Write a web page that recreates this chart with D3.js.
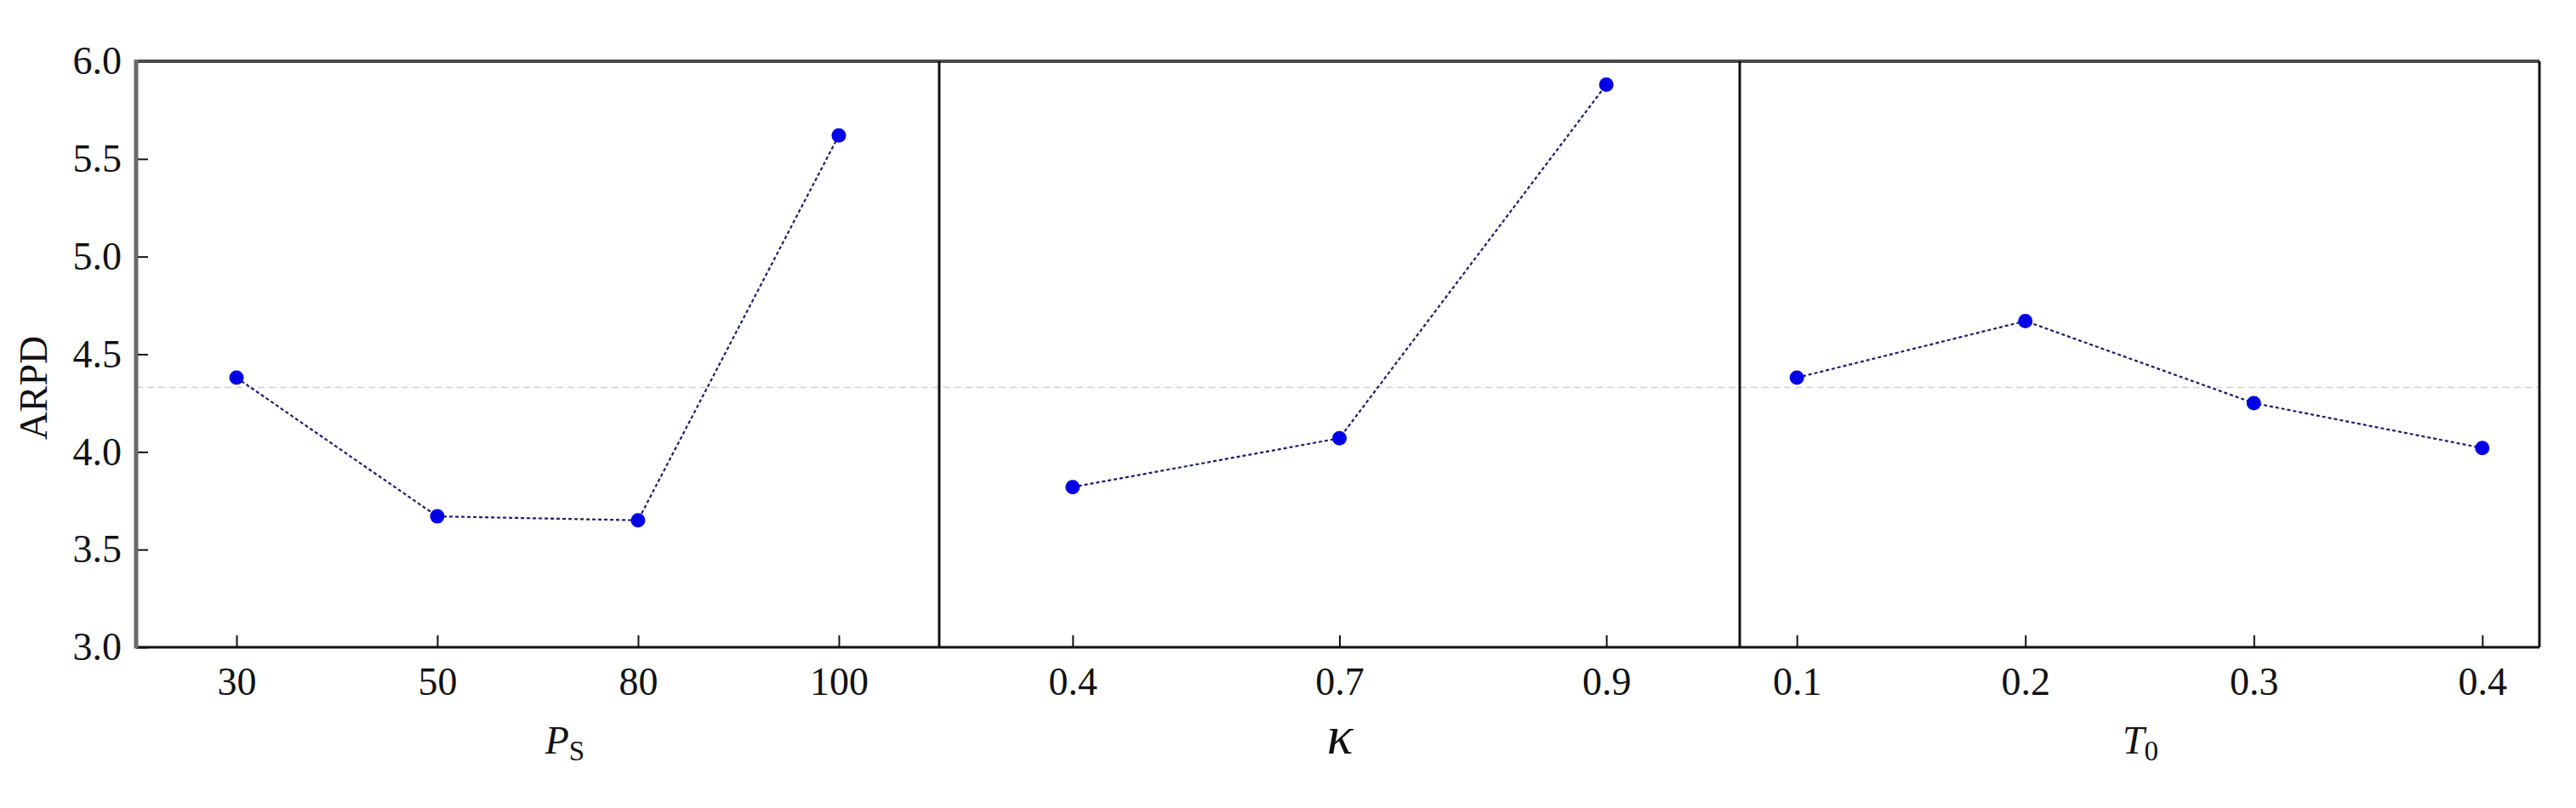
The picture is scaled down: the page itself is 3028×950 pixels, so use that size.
<!DOCTYPE html>
<html>
<head>
<meta charset="utf-8">
<script src="https://cdn.jsdelivr.net/npm/d3@7"></script>
<style>
  html, body { margin: 0; padding: 0; background: #fff; }
  svg { display: block; }
  text { font-family: "Liberation Serif", "Times New Roman", serif; fill: #111; }
</style>
</head>
<body>
<svg id="chart" width="3028" height="950"></svg>
<script>
// ---------------- data ----------------
const psLevels = ["30", "50", "80", "100"];
const psValues = [4.38, 3.67, 3.65, 5.62];

const kappaLevels = ["0.4", "0.7", "0.9"];
const kappaValues = [3.82, 4.07, 5.88];

const t0Levels = ["0.1", "0.2", "0.3", "0.4"];
const t0Values = [4.38, 4.67, 4.25, 4.02];

const meanARPD = 4.33;
const yTicks = [3.0, 3.5, 4.0, 4.5, 5.0, 5.5, 6.0];
const yDomain = [3.0, 6.0];

// ---------------- layout ----------------
const plotTop = 72, plotBottom = 761, plotLeft = 160, plotRight = 2985;
const panelEdges = [160, 1104, 2045, 2985];
const panelPadding = [0.5, 0.5, 0.25];
const FONT = 46;

const panels = [
  { levels: psLevels, values: psValues, title: [{t: "P", italic: true}, {t: "S", sub: true}], titleX: 664, size: FONT },
  { levels: kappaLevels, values: kappaValues, title: [{t: "κ", italic: true}], titleX: 1575, size: 64 },
  { levels: t0Levels, values: t0Values, title: [{t: "T", italic: true}, {t: "0", sub: true}], titleX: 2516, size: FONT }
];

const svg = d3.select("#chart");
const y = d3.scaleLinear().domain(yDomain).range([plotBottom, plotTop]);

// mean dashed line (behind everything)
svg.append("line")
  .attr("x1", plotLeft).attr("x2", plotRight)
  .attr("y1", y(meanARPD)).attr("y2", y(meanARPD))
  .attr("stroke", "#cfcfcf").attr("stroke-width", 1.6)
  .attr("stroke-dasharray", "8,5");

// y axis
const yAxis = d3.axisLeft(y).tickValues(yTicks).tickFormat(d3.format(".1f"))
  .tickSizeInner(-14).tickSizeOuter(0).tickPadding(17);
const gy = svg.append("g").attr("transform", `translate(${plotLeft},0)`).call(yAxis);
gy.select(".domain").remove();
gy.selectAll(".tick line").attr("stroke", "#111").attr("stroke-width", 2);
gy.selectAll(".tick text").style("font-size", FONT + "px").attr("fill", "#111");

// y title
svg.append("text")
  .attr("transform", `translate(39,456) rotate(-90)`)
  .attr("text-anchor", "middle").attr("dy", "0.35em")
  .style("font-size", FONT + "px")
  .text("ARPD");

const line = d3.line();

panels.forEach((p, i) => {
  const x = d3.scalePoint().domain(p.levels)
    .range([panelEdges[i], panelEdges[i + 1]]).padding(panelPadding[i]);

  const xAxis = d3.axisBottom(x).tickSizeInner(-14).tickSizeOuter(0).tickPadding(23);
  const gx = svg.append("g").attr("transform", `translate(0,${plotBottom})`).call(xAxis);
  gx.select(".domain").remove();
  gx.selectAll(".tick line").attr("stroke", "#111").attr("stroke-width", 2);
  gx.selectAll(".tick text").style("font-size", FONT + "px").attr("fill", "#111");

  const pts = p.levels.map((l, j) => [x(l), y(p.values[j])]);
  svg.append("path")
    .attr("d", line(pts))
    .attr("fill", "none")
    .attr("stroke", "#1c1c6e").attr("stroke-width", 2.2)
    .attr("stroke-dasharray", "4,3");

  svg.append("g").selectAll("circle").data(pts).join("circle")
    .attr("cx", d => d[0]).attr("cy", d => d[1]).attr("r", 8.5)
    .attr("fill", "#0000e6");

  const t = svg.append("text")
    .attr("x", p.titleX).attr("y", 886)
    .attr("text-anchor", "middle")
    .style("font-size", p.size + "px");
  p.title.forEach(s => {
    const ts = t.append("tspan").text(s.t);
    if (s.italic) ts.style("font-style", "italic");
    if (s.sub) ts.attr("dy", 8).style("font-size", (FONT * 0.72) + "px");
  });
});

// frame lines
svg.append("line").attr("x1", plotLeft).attr("x2", plotRight).attr("y1", plotTop).attr("y2", plotTop)
  .attr("stroke", "#4a4a4a").attr("stroke-width", 4);
svg.append("line").attr("x1", plotLeft).attr("x2", plotRight).attr("y1", plotBottom).attr("y2", plotBottom)
  .attr("stroke", "#111").attr("stroke-width", 3);
svg.append("line").attr("x1", plotLeft).attr("x2", plotLeft).attr("y1", plotTop - 2).attr("y2", plotBottom + 1.5)
  .attr("stroke", "#6a6a6a").attr("stroke-width", 5);
panelEdges.slice(1).forEach(xe => {
  svg.append("line").attr("x1", xe).attr("x2", xe).attr("y1", plotTop).attr("y2", plotBottom)
    .attr("stroke", "#111").attr("stroke-width", 3);
});
</script>
</body>
</html>
